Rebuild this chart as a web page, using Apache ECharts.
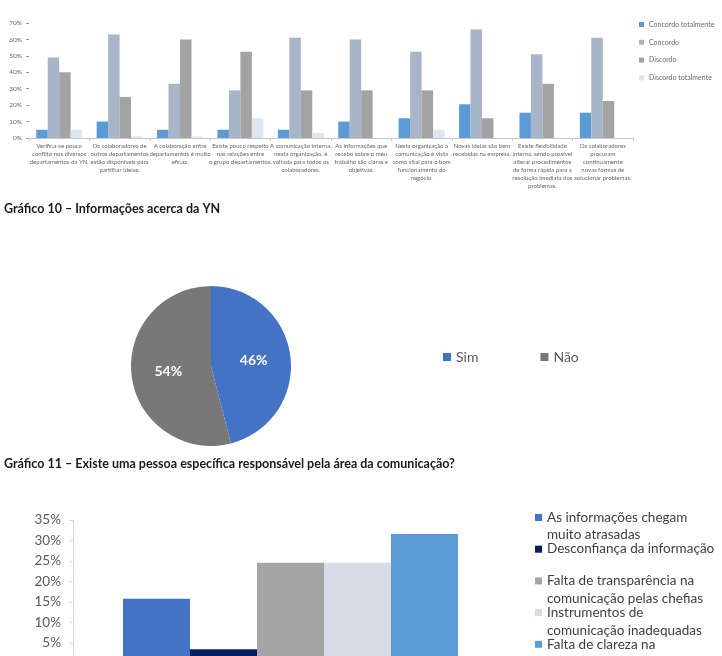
<!DOCTYPE html>
<html><head><meta charset="utf-8">
<script src="https://cdn.jsdelivr.net/npm/echarts@6/dist/echarts.min.js"></script>
<style>html,body{margin:0;padding:0;background:#fff}#c{width:722px;height:656px}</style>
</head><body><div id="c"></div>
<script>
// ---- Gráfico 10 ----
const topCategories = [
  'Verifica-se pouco\nconflito nos diversos\ndepartamentos da YN.',
  'Os colaboradores de\noutros departamentos\nestão disponíveis para\npartilhar ideias.',
  'A colaboração entre\ndepartamentos é muito\neficaz.',
  'Existe pouco respeito\nnas relações entre\no grupo departamentos.',
  'A comunicação interna,\nnesta organização, é\nvoltada para todos os\ncolaboradores.',
  'As informações que\nrecebo sobre o meu\ntrabalho são claras e\nobjetivas.',
  'Nesta organização a\ncomunicação é vista\ncomo vital para o bom\nfuncionamento do\nnegócio.',
  'Novas ideias são bem\nrecebidas na empresa.',
  'Existe flexibilidade\ninterna, sendo possível\nalterar procedimentos\nde forma rápida para a\nresolução imediata dos\nproblemas.',
  'Os colaboradores\nprocuram\ncontinuamente\nnovas formas de\nsolucionar problemas.'
];
const topSeriesNames = ['Concordo totalmente', 'Concordo', 'Discordo', 'Discordo totalmente'];
const concordoTotalmente = [5, 10, 5, 5, 5, 10, 12, 20.5, 15.4, 15.4];
const concordo = [49, 63, 33, 29, 61, 60, 52.5, 66, 51, 61];
const discordo = [40, 25, 60, 52.5, 29, 29, 29, 12, 33, 22.5];
const discordoTotalmente = [5, 1, 1, 12, 3, 0, 5, 0, 0, 0];
const topYMax = 70, topYInterval = 10;

// ---- Gráfico 11 ----
const pieNames = ['Sim', 'Não'];
const pieValues = [46, 54];

// ---- Gráfico 12 ----
const bottomNames = [
  'As informações chegam\nmuito atrasadas',
  'Desconfiança da informação',
  'Falta de transparência na\ncomunicação pelas chefias',
  'Instrumentos de\ncomunicação inadequadas',
  'Falta de clareza na\ninformação'
];
const bottomValues = [15.8, 3.5, 24.6, 24.6, 31.6];
const bottomYMax = 35, bottomYInterval = 5;

const captions = [
  'Gráfico 10 – Informações acerca da YN',
  'Gráfico 11 – Existe uma pessoa específica responsável pela área da comunicação?'
];

const FONT = 'Lato';
const topColors = ['#5B9BD5', '#A8B4C8', '#A3A3A3', '#DCE6F1'];
const pieColors = ['#4472C4', '#787878'];
const bottomColors = ['#4472C4', '#002060', '#A5A5A5', '#D6DCE5', '#5B9BD5'];
const topData = [concordoTotalmente, concordo, discordo, discordoTotalmente];

const chart = echarts.init(document.getElementById('c'), null, {renderer: 'canvas'});

const series = [];
topSeriesNames.forEach((n, i) => {
  series.push({
    type: 'bar', name: n, xAxisIndex: 0, yAxisIndex: 0, data: topData[i],
    itemStyle: {color: topColors[i]}, barGap: '0%', barCategoryGap: '24%'
  });
});
series.push({
  type: 'pie', name: 'g11', center: [211, 366], radius: [0, 80], startAngle: 90, clockwise: true,
  data: pieNames.map((n, i) => ({name: n, value: pieValues[i], itemStyle: {color: pieColors[i]}})),
  label: {position: 'inside', formatter: '{d}%', color: '#fff', fontFamily: FONT, fontWeight: 'bold', fontSize: 14},
  labelLine: {show: false}, silent: true
});
bottomNames.forEach((n, i) => {
  series.push({
    type: 'bar', name: n, xAxisIndex: 1, yAxisIndex: 1, data: [bottomValues[i]],
    itemStyle: {color: bottomColors[i]}, barGap: '0%', barCategoryGap: '23%'
  });
});

const graphic = [];
const legendY0 = 517.5, legendStep = 31.7;
bottomNames.forEach((n, i) => {
  const cy = legendY0 + i * legendStep;
  graphic.push({type: 'rect', shape: {x: 535, y: cy - 3.5, width: 7, height: 7}, style: {fill: bottomColors[i]}});
  graphic.push({type: 'text', x: 547, y: cy - 9, style: {text: n, font: '13.5px ' + FONT, fill: '#404040', lineHeight: 17.7, textVerticalAlign: 'top'}});
});

chart.setOption({
  animation: false,
  textStyle: {fontFamily: FONT},
  title: [
    {text: captions[0], left: 4, top: 202, padding: 0, textStyle: {fontFamily: FONT, fontWeight: 'bold', fontSize: 12.5, color: '#1a1a1a'}},
    {text: captions[1], left: 4, top: 457, padding: 0, textStyle: {fontFamily: FONT, fontWeight: 'bold', fontSize: 12.5, color: '#1a1a1a'}}
  ],
  legend: [
    {data: topSeriesNames, orient: 'vertical', left: 639, top: 21, itemWidth: 5, itemHeight: 5, itemGap: 10.8, padding: 0,
     icon: 'rect', textStyle: {fontSize: 7, color: '#6a6a6a', fontFamily: FONT}, selectedMode: false},
    {data: pieNames, orient: 'horizontal', left: 443, top: 350, itemWidth: 8, itemHeight: 8, itemGap: 62, padding: 0,
     icon: 'rect', textStyle: {fontSize: 14, color: '#595959', fontFamily: FONT}, selectedMode: false}
  ],
  grid: [
    {left: 29, width: 604, top: 23, height: 115, outerBoundsMode: 'none'},
    {left: 73, width: 435, top: 520, height: 143.5, outerBoundsMode: 'none'}
  ],
  xAxis: [
    {type: 'category', gridIndex: 0, data: topCategories,
     axisLine: {lineStyle: {color: '#c8c8c8'}}, axisTick: {show: true, length: 3, lineStyle: {color: '#c8c8c8'}},
     axisLabel: {interval: 0, fontSize: 6, lineHeight: 8, color: '#666', margin: 4, fontFamily: FONT}},
    {type: 'category', gridIndex: 1, data: [''], axisLine: {lineStyle: {color: '#d9d9d9'}}, axisTick: {show: false}, axisLabel: {show: false}}
  ],
  yAxis: [
    {type: 'value', gridIndex: 0, min: 0, max: topYMax, interval: topYInterval,
     axisLine: {show: false}, axisTick: {show: true, length: 3, lineStyle: {color: '#999'}}, splitLine: {show: false},
     axisLabel: {formatter: '{value}%', fontSize: 6.5, color: '#666', margin: 7, fontFamily: FONT}},
    {type: 'value', gridIndex: 1, min: 0, max: bottomYMax, interval: bottomYInterval,
     axisLine: {show: true, lineStyle: {color: '#d9d9d9'}}, axisTick: {show: true, length: 4, lineStyle: {color: '#d9d9d9'}}, splitLine: {show: false},
     axisLabel: {formatter: '{value}%', fontSize: 13.5, color: '#595959', margin: 12, fontFamily: FONT}}
  ],
  series: series,
  graphic: graphic
});
</script>
</body></html>
